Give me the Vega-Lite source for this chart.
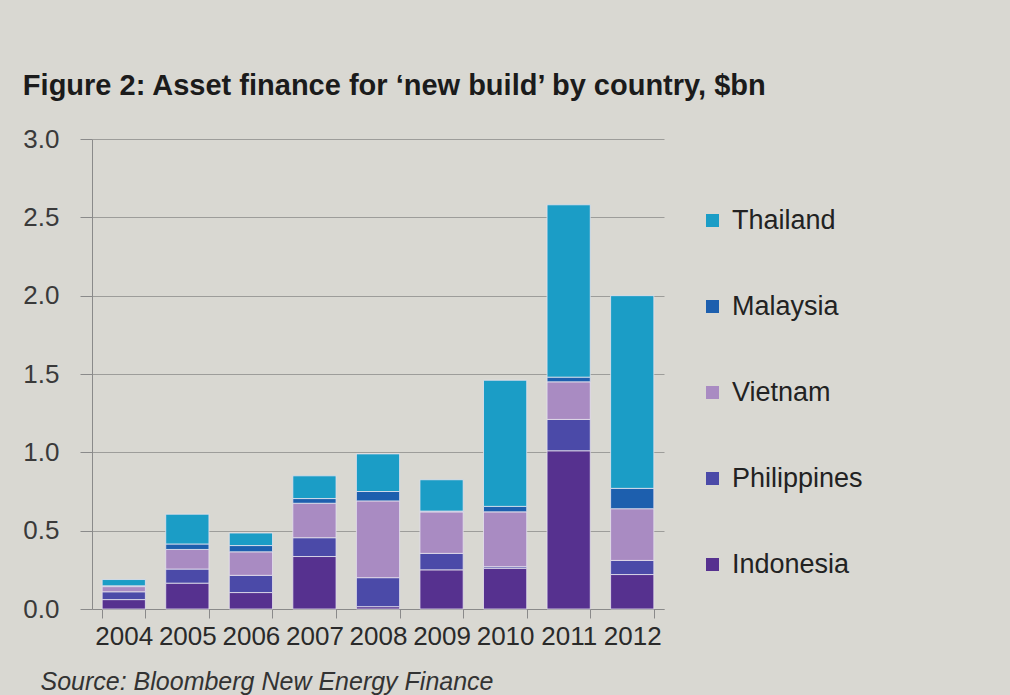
{
  "$schema": "https://vega.github.io/schema/vega-lite/v6.json",
  "width": 572,
  "height": 470,
  "padding": {"left": 22, "top": 72, "right": 165, "bottom": 20},
  "background": "#d9d8d2",
  "title": {
    "text": "Figure 2: Asset finance for ‘new build’ by country, $bn",
    "anchor": "start",
    "frame": "bounds",
    "font": "Liberation Sans",
    "fontSize": 29,
    "fontWeight": "bold",
    "color": "#1b1b1b",
    "offset": 25
  },
  "config": {
    "view": {"stroke": null},
    "font": "Liberation Sans"
  },
  "data": {
    "values": [
      {"year": "2004", "country": "Indonesia", "value": 0.06},
      {"year": "2004", "country": "Philippines", "value": 0.05},
      {"year": "2004", "country": "Vietnam", "value": 0.033},
      {"year": "2004", "country": "Malaysia", "value": 0.005},
      {"year": "2004", "country": "Thailand", "value": 0.04},
      {"year": "2005", "country": "Indonesia", "value": 0.165},
      {"year": "2005", "country": "Philippines", "value": 0.09},
      {"year": "2005", "country": "Vietnam", "value": 0.125},
      {"year": "2005", "country": "Malaysia", "value": 0.035},
      {"year": "2005", "country": "Thailand", "value": 0.19},
      {"year": "2006", "country": "Indonesia", "value": 0.105},
      {"year": "2006", "country": "Philippines", "value": 0.11},
      {"year": "2006", "country": "Vietnam", "value": 0.15},
      {"year": "2006", "country": "Malaysia", "value": 0.04},
      {"year": "2006", "country": "Thailand", "value": 0.08},
      {"year": "2007", "country": "Indonesia", "value": 0.335},
      {"year": "2007", "country": "Philippines", "value": 0.12},
      {"year": "2007", "country": "Vietnam", "value": 0.22},
      {"year": "2007", "country": "Malaysia", "value": 0.03},
      {"year": "2007", "country": "Thailand", "value": 0.145},
      {"year": "2008", "country": "Indonesia", "value": 0.015},
      {"year": "2008", "country": "Philippines", "value": 0.185},
      {"year": "2008", "country": "Vietnam", "value": 0.49},
      {"year": "2008", "country": "Malaysia", "value": 0.06},
      {"year": "2008", "country": "Thailand", "value": 0.24},
      {"year": "2009", "country": "Indonesia", "value": 0.25},
      {"year": "2009", "country": "Philippines", "value": 0.105},
      {"year": "2009", "country": "Vietnam", "value": 0.265},
      {"year": "2009", "country": "Malaysia", "value": 0.005},
      {"year": "2009", "country": "Thailand", "value": 0.2},
      {"year": "2010", "country": "Indonesia", "value": 0.26},
      {"year": "2010", "country": "Philippines", "value": 0.01},
      {"year": "2010", "country": "Vietnam", "value": 0.35},
      {"year": "2010", "country": "Malaysia", "value": 0.035},
      {"year": "2010", "country": "Thailand", "value": 0.805},
      {"year": "2011", "country": "Indonesia", "value": 1.01},
      {"year": "2011", "country": "Philippines", "value": 0.2},
      {"year": "2011", "country": "Vietnam", "value": 0.24},
      {"year": "2011", "country": "Malaysia", "value": 0.03},
      {"year": "2011", "country": "Thailand", "value": 1.1},
      {"year": "2012", "country": "Indonesia", "value": 0.22},
      {"year": "2012", "country": "Philippines", "value": 0.09},
      {"year": "2012", "country": "Vietnam", "value": 0.33},
      {"year": "2012", "country": "Malaysia", "value": 0.13},
      {"year": "2012", "country": "Thailand", "value": 1.23}
    ]
  },
  "transform": [
    {"calculate": "indexof(['Indonesia','Philippines','Vietnam','Malaysia','Thailand'], datum.country)", "as": "stackOrder"}
  ],
  "mark": {"type": "bar", "stroke": "#e6e2ee", "strokeWidth": 0.8},
  "encoding": {
    "x": {
      "field": "year",
      "type": "ordinal",
      "scale": {"paddingInner": 0.32},
      "axis": {
        "title": "Source: Bloomberg New Energy Finance",
        "titleFont": "Liberation Sans",
        "titleFontSize": 25,
        "titleFontStyle": "italic",
        "titleFontWeight": "normal",
        "titleColor": "#333333",
        "titleAnchor": "start",
        "titleAlign": "left",
        "titleX": -52,
        "titlePadding": 20,
        "labelAngle": 0,
        "labelFontSize": 26,
        "labelColor": "#2a2a2a",
        "labelPadding": 5,
        "tickBand": "extent",
        "tickSize": 9,
        "tickColor": "#8a8a8a",
        "domainColor": "#8a8a8a",
        "grid": false
      }
    },
    "y": {
      "field": "value",
      "type": "quantitative",
      "stack": "zero",
      "scale": {"domain": [0, 3]},
      "axis": {
        "title": null,
        "values": [0, 0.5, 1, 1.5, 2, 2.5, 3],
        "format": ".1f",
        "labelFontSize": 26,
        "labelColor": "#3a3a3a",
        "labelPadding": 21,
        "tickSize": 12,
        "tickColor": "#8a8a8a",
        "domainColor": "#8a8a8a",
        "gridColor": "#9d9d9a",
        "gridWidth": 1
      }
    },
    "color": {
      "field": "country",
      "type": "nominal",
      "scale": {
        "domain": ["Thailand", "Malaysia", "Vietnam", "Philippines", "Indonesia"],
        "range": ["#1b9dc6", "#1d5fae", "#a98bc2", "#4b4aa8", "#56318f"]
      },
      "legend": {
        "title": null,
        "orient": "none",
        "legendX": 607,
        "legendY": 68,
        "symbolType": "square",
        "symbolSize": 169,
        "symbolStrokeWidth": 0,
        "labelFontSize": 27,
        "labelColor": "#222222",
        "labelOffset": 6,
        "rowPadding": 58
      }
    },
    "order": {"field": "stackOrder", "type": "quantitative", "sort": "ascending"}
  }
}
